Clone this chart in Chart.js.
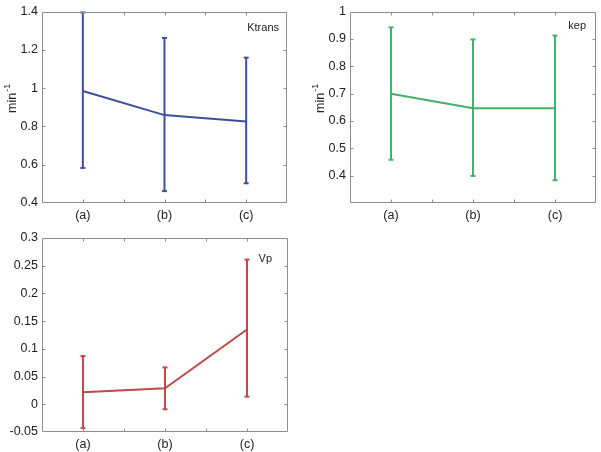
<!DOCTYPE html>
<html><head><meta charset="utf-8">
<script src="https://cdn.jsdelivr.net/npm/chart.js@4.4.1/dist/chart.umd.min.js"></script>
<style>
html,body{margin:0;padding:0;background:#fff;}
body{width:601px;height:452px;position:relative;overflow:hidden;}
.box{position:absolute;}
</style></head>
<body>
<div class="box" id="b1" style="left:0;top:0;width:300px;height:226px"><canvas id="c1"></canvas></div>
<div class="box" id="b2" style="left:300px;top:0;width:301px;height:226px"><canvas id="c2"></canvas></div>
<div class="box" id="b3" style="left:0;top:226px;width:300px;height:226px"><canvas id="c3"></canvas></div>
<script>
// ---- data ----
const categories = ['(a)', '(b)', '(c)'];
const ktransMean = [0.985, 0.859, 0.826];
const ktransLow  = [0.583, 0.462, 0.503];
const ktransHigh = [1.395, 1.262, 1.159];
const kepMean = [0.699, 0.646, 0.646];
const kepLow  = [0.458, 0.399, 0.383];
const kepHigh = [0.942, 0.898, 0.912];
const vpMean = [0.0216, 0.0288, 0.135];
const vpLow  = [-0.043, -0.009, 0.0137];
const vpHigh = [0.087, 0.0665, 0.261];
const ktransTicks = [0.4, 0.6, 0.8, 1, 1.2, 1.4];
const kepTicks = [0.3, 0.4, 0.5, 0.6, 0.7, 0.8, 0.9, 1];
const vpTicks = [-0.05, 0, 0.05, 0.1, 0.15, 0.2, 0.25, 0.3];

const FONT = "'Liberation Sans', Arial, sans-serif";
const AXIS = '#8c8c8c';
const TXT = '#222';

const frame = {
  id: 'frame',
  afterDraw(chart, args, o) {
    const {ctx, chartArea: a, scales} = chart;
    ctx.save();
    ctx.strokeStyle = AXIS; ctx.lineWidth = 1;
    const L = Math.round(a.left) + 0.5, R = Math.round(a.right) - 0.5;
    const T = Math.round(a.top) + 0.5, B = Math.round(a.bottom) - 0.5;
    ctx.beginPath();
    ctx.rect(L, T, R - L, B - T);
    // inward ticks (skip the ones on the frame corners)
    const tl = 3;
    scales.x.ticks.forEach(t => {
      if (t.value <= scales.x.min || t.value >= scales.x.max) return;
      const px = Math.round(scales.x.getPixelForValue(t.value)) + 0.5;
      ctx.moveTo(px, B); ctx.lineTo(px, B - tl);
      ctx.moveTo(px, T); ctx.lineTo(px, T + tl);
    });
    scales.y.ticks.forEach(t => {
      if (t.value <= scales.y.min + 1e-9 || t.value >= scales.y.max - 1e-9) return;
      const py = Math.round(scales.y.getPixelForValue(t.value)) + 0.5;
      ctx.moveTo(L, py); ctx.lineTo(L + tl, py);
      ctx.moveTo(R, py); ctx.lineTo(R - tl, py);
    });
    ctx.stroke();
    // name label
    ctx.fillStyle = TXT;
    ctx.font = '11px ' + FONT;
    ctx.textAlign = 'right'; ctx.textBaseline = 'middle';
    ctx.fillText(o.name, a.right - o.nameDx, a.top + o.nameDy);
    // y title min^-1
    if (o.unit) {
      ctx.translate(a.left - 29, a.top + 101.5);
      ctx.rotate(-Math.PI / 2);
      ctx.textAlign = 'left'; ctx.textBaseline = 'middle';
      ctx.font = '12.5px ' + FONT;
      ctx.fillText('min', 0, 0);
      const w = ctx.measureText('min').width;
      ctx.font = '9px ' + FONT;
      ctx.fillText('-1', w + 1, -5);
    }
    ctx.restore();
  }
};

function makeChart(id, mean, lo, hi, yticks, color, pad, yw, xh, name, nameDx, nameDy, unit) {
  const datasets = [{
    data: mean.map((v, i) => ({x: i + 1, y: v})),
    borderColor: color, borderWidth: 2, pointRadius: 0, tension: 0, clip: false
  }];
  mean.forEach((v, i) => {
    datasets.push({
      data: [{x: i + 1, y: lo[i]}, {x: i + 1, y: hi[i]}],
      borderColor: color, borderWidth: 2,
      pointStyle: 'line', pointRadius: 2.5, pointBorderWidth: 2,
      pointBorderColor: color, clip: false
    });
  });
  const ymin = yticks[0], ymax = yticks[yticks.length - 1];
  return new Chart(document.getElementById(id), {
    type: 'line',
    data: {datasets},
    options: {
      responsive: true, maintainAspectRatio: false, animation: false, events: [],
      layout: {padding: pad, autoPadding: false},
      plugins: {legend: {display: false}, tooltip: {enabled: false},
        frame: {name, nameDx, nameDy, unit}},
      scales: {
        x: {type: 'linear', min: 0.5, max: 3.5,
          grid: {display: false, drawTicks: false}, border: {display: false},
          afterFit: s => { s.height = xh; },
          ticks: {stepSize: 0.5, autoSkip: false, maxRotation: 0, padding: 5,
            color: TXT, font: {family: FONT, size: 12.5},
            callback: v => Number.isInteger(v) ? categories[v - 1] : ''}},
        y: {type: 'linear', min: ymin, max: ymax,
          grid: {display: false, drawTicks: false}, border: {display: false},
          afterFit: s => { s.width = yw; },
          afterBuildTicks: s => { s.ticks = yticks.map(v => ({value: v})); },
          ticks: {padding: 4, color: TXT, font: {family: FONT, size: 12.5},
            callback: v => (id === 'c2' && Math.abs(v - 0.3) < 1e-9) ? '' : String(+v.toFixed(3))}}
      }
    },
    plugins: [frame]
  });
}

makeChart('c1', ktransMean, ktransLow, ktransHigh, ktransTicks, '#3c4f9d',
  {top: 10, right: 13, left: 0, bottom: 0}, 42, 23, 'Ktrans', 8, 16.5, true);
makeChart('c2', kepMean, kepLow, kepHigh, kepTicks, '#45b168',
  {top: 10, right: 5, left: 0, bottom: 0}, 50, 23, 'kep', 10, 14, true);
makeChart('c3', vpMean, vpLow, vpHigh, vpTicks, '#bf4a4a',
  {top: 12, right: 12, left: 0, bottom: 0}, 42, 20, 'Vp', 16, 21, false);
</script>
</body></html>
